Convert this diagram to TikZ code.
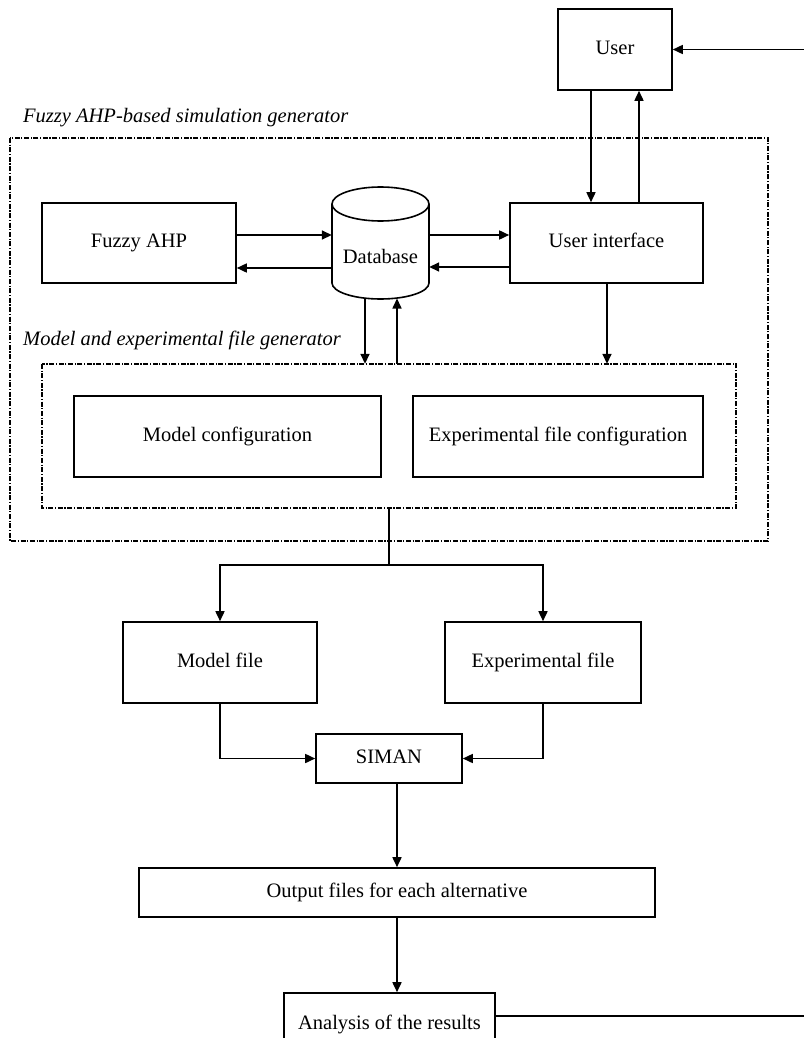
\documentclass[tikz,border=0pt]{standalone}
\usepackage{fontspec}
\setmainfont{Liberation Serif}
\usetikzlibrary{arrows.meta}
\newcommand{\diagfont}{\fontsize{20.5}{24}\selectfont}
\tikzset{
    box/.style={draw, line width=1.6pt, inner sep=0pt, minimum height=81pt, align=center,
        text height=14pt, text depth=4.5pt},
    group/.style={draw, line width=1.3pt, dash pattern=on 5pt off 1.6pt on 1.2pt off 1.6pt},
    grouptitle/.style={anchor=base west, inner sep=0pt, font=\diagfont\itshape},
    arr/.style={line width=1.6pt, -{Triangle[length=10pt,width=9pt]}},
    wire/.style={line width=1.6pt}
}
\begin{document}
\begin{tikzpicture}[x=1pt,y=-1pt,font=\diagfont]
    \useasboundingbox (0,0) rectangle (803,1038);

    % dash-dot frames
    \draw[group] (10,138) rectangle (768,541);
    \draw[group] (42,364) rectangle (736,508);
    \node[grouptitle] (outertitle) at (23,123) {Fuzzy AHP-based simulation generator};
    \node[grouptitle] (innertitle) at (23,345) {Model and experimental file generator};
    \node (inner) at (389,436) [minimum width=694pt, minimum height=144pt, inner sep=0pt] {};

    % boxes
    \node[box, minimum width=114pt] (user) at (615,49.5) {User};
    \node[box, minimum width=194pt, minimum height=80pt] (fuzzy) at (139,243) {Fuzzy AHP};
    \node[box, minimum width=193pt, minimum height=80pt] (ui) at (606.5,243) {User interface};
    \node[box, minimum width=307pt] (mconf) at (227.5,436.5) {Model configuration};
    \node[box, minimum width=290pt] (econf) at (558,436.5) {Experimental file configuration};
    \node[box, minimum width=194pt] (mfile) at (220,662.5) {Model file};
    \node[box, minimum width=196pt] (efile) at (543,662.5) {Experimental file};
    \node[box, minimum width=146pt, minimum height=49pt] (siman) at (389,758.5) {SIMAN};
    \node[box, minimum width=516pt, minimum height=49pt] (output) at (397,892.5) {Output files for each alternative};
    \node[box, minimum width=211pt, minimum height=64pt] (analysis) at (389.5,1025) {Analysis of the results};

    % database cylinder
    \draw[wire] (332,204) -- (332,283) arc[start angle=180, end angle=360, x radius=48.5pt, y radius=16pt] -- (429,204);
    \draw[wire] (380.5,204) ellipse [x radius=48.5pt, y radius=17pt];
    \node (db) at (380.5,243.5) [minimum width=97pt, minimum height=79pt, inner sep=0pt] {};
    \node (dblabel) at (380.5,256) {Database};
    \coordinate (dbbase) at (380.5,298.5);

    % connectors
    \draw[arr] (user.south -| 591,0) -- (ui.north -| 591,0);
    \draw[arr] (ui.north -| 639,0) -- (user.south -| 639,0);
    \draw[arr] (fuzzy.east |- 0,235) -- (db.west |- 0,235);
    \draw[arr] (db.west |- 0,268) -- (fuzzy.east |- 0,268);
    \draw[arr] (db.east |- 0,235) -- (ui.west |- 0,235);
    \draw[arr] (ui.west |- 0,267) -- (db.east |- 0,267);
    \draw[arr] (dbbase -| 365,0) -- (inner.north -| 365,0);
    \draw[arr] (inner.north -| 397,0) -- (dbbase -| 397,0);
    \draw[arr] (ui.south -| 607,0) -- (inner.north -| 607,0);

    \coordinate (split) at (389,565);
    \draw[wire] (inner.south -| split) -- (split);
    \draw[arr] (split) -| (mfile.north);
    \draw[arr] (split) -| (efile.north);
    \draw[arr] (mfile.south) |- (siman.west);
    \draw[arr] (efile.south) |- (siman.east);
    \draw[arr] (siman.south -| output.north) -- (output.north);
    \draw[arr] (output.south) -- (output.south |- analysis.north);

    % feedback to the user
    \coordinate (fb) at (808,49.5);
    \draw[arr] (analysis.east |- 0,1016) -| (fb) -- (user.east);
\end{tikzpicture}
\end{document}
